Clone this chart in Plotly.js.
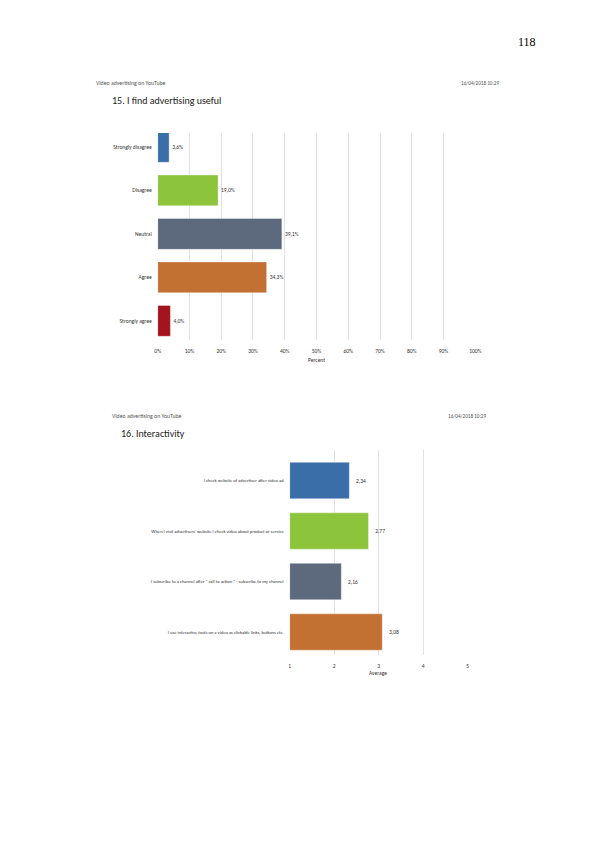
<!DOCTYPE html>
<html>
<head>
<meta charset="utf-8">
<script src="https://cdn.plot.ly/plotly-3.0.1.min.js"></script>
<style>
  html, body { margin: 0; padding: 0; background: #fff; }
  #page { width: 595px; height: 842px; }
</style>
</head>
<body>
<div id="page"></div>
<script>
// question 15
var usefulCats = ['Strongly disagree', 'Disagree', 'Neutral', 'Agree', 'Strongly agree'];
var usefulPct = [3.6, 19.0, 39.1, 34.3, 4.0];
var usefulColors = ['#3a6ea8', '#8cc43c', '#5d6a7d', '#c27133', '#a3141f'];
var pctTicks = [0, 10, 20, 30, 40, 50, 60, 70, 80, 90, 100];

// question 16
var interCats = [
    'I check website of advertiser after video ad',
    'When I visit advertisers\u2019 website I check video about product or service',
    'I subscribe to a channel after " call to action " - subscribe to my channel',
    'I use interactive tools on a video as clickable links, buttons etc.'
];
var interAvg = [2.34, 2.77, 2.16, 3.08];
var interColors = ['#3a6ea8', '#8cc43c', '#5d6a7d', '#c27133'];
var avgTicks = [1, 2, 3, 4, 5];

var bodyFont = "Carlito, 'Liberation Sans Narrow', Lato, sans-serif";

var trace1 = {
    type: 'bar',
    orientation: 'h',
    x: usefulPct,
    y: usefulCats,
    width: 0.71,
    marker: {color: usefulColors, line: {color: 'rgba(255,255,255,0.6)', width: 0.6}},
    texttemplate: '%{x:.1f}%',
    textposition: 'outside',
    textfont: {size: 5.5, color: '#333', family: bodyFont},
    cliponaxis: false,
    hoverinfo: 'none',
    xaxis: 'x',
    yaxis: 'y'
};

// the scale starts at 1, so bars run from base 1 to the average
var trace2 = {
    type: 'bar',
    orientation: 'h',
    base: 1,
    x: interAvg.map(function(v){ return v - 1; }),
    y: interCats,
    customdata: interAvg,
    width: 0.72,
    marker: {color: interColors, line: {color: 'rgba(255,255,255,0.6)', width: 0.6}},
    texttemplate: '\u00a0\u00a0\u00a0%{customdata:.2f}',
    textposition: 'outside',
    textfont: {size: 5.5, color: '#333', family: bodyFont},
    cliponaxis: false,
    hoverinfo: 'none',
    xaxis: 'x2',
    yaxis: 'y2'
};

var gridCol = '#d9d9d9';

var layout = {
    width: 595,
    height: 842,
    margin: {l: 0, r: 0, t: 0, b: 0},
    paper_bgcolor: '#fff',
    plot_bgcolor: 'rgba(0,0,0,0)',
    showlegend: false,
    separators: ',.',
    font: {family: bodyFont, color: '#333'},
    xaxis: {
        domain: [157.7 / 595, 475.3 / 595],
        range: [0, 100],
        tickvals: pctTicks,
        ticktext: pctTicks.map(function(t){ return t + '%'; }),
        showgrid: true,
        gridcolor: gridCol,
        gridwidth: 0.8,
        zeroline: false,
        showline: false,
        ticks: 'outside',
        ticklen: 5,
        tickcolor: 'rgba(0,0,0,0)',
        tickfont: {size: 5.5, color: '#333'},
        fixedrange: true
    },
    yaxis: {
        domain: [1 - 340 / 842, 1 - 133 / 842],
        range: [4.44, -0.32],
        showgrid: false,
        zeroline: false,
        ticks: '',
        ticklabelstandoff: 5,
        tickfont: {size: 5.5, color: '#333'},
        fixedrange: true
    },
    xaxis2: {
        domain: [289.7 / 595, 467.7 / 595],
        range: [1, 5],
        tickvals: avgTicks,
        showgrid: true,
        gridcolor: gridCol,
        gridwidth: 0.8,
        zeroline: false,
        showline: false,
        ticks: 'outside',
        ticklen: 5,
        tickcolor: 'rgba(0,0,0,0)',
        tickfont: {size: 5.5, color: '#333'},
        anchor: 'y2',
        fixedrange: true
    },
    yaxis2: {
        domain: [1 - 655 / 842, 1 - 450 / 842],
        range: [3.455, -0.604],
        showgrid: false,
        zeroline: false,
        ticks: '',
        ticklabelstandoff: 5,
        tickfont: {size: 4.6, color: '#333'},
        anchor: 'x2',
        fixedrange: true
    },
    annotations: [
        {text: '118', x: 538 / 595, y: 1 - 42 / 842, xref: 'paper', yref: 'paper',
         xanchor: 'right', yanchor: 'middle', showarrow: false,
         font: {family: "'Liberation Serif', 'DejaVu Serif', serif", size: 12, color: '#000'}},

        {text: 'Video advertising on YouTube', x: 94 / 595, y: 1 - 83 / 842, xref: 'paper', yref: 'paper',
         xanchor: 'left', yanchor: 'middle', showarrow: false, font: {size: 5.8, color: '#555'}},
        {text: '16/04/2018 10:29', x: 501 / 595, y: 1 - 83 / 842, xref: 'paper', yref: 'paper',
         xanchor: 'right', yanchor: 'middle', showarrow: false, font: {size: 5.2, color: '#555'}},
        {text: '15. I find advertising useful', x: 110 / 595, y: 1 - 101 / 842, xref: 'paper', yref: 'paper',
         xanchor: 'left', yanchor: 'middle', showarrow: false, font: {size: 10, color: '#222'}},
        {text: 'Percent', x: 316 / 595, y: 1 - 360 / 842, xref: 'paper', yref: 'paper',
         xanchor: 'center', yanchor: 'middle', showarrow: false, font: {size: 5.5, color: '#333'}},

        {text: 'Video advertising on YouTube', x: 110 / 595, y: 1 - 416 / 842, xref: 'paper', yref: 'paper',
         xanchor: 'left', yanchor: 'middle', showarrow: false, font: {size: 5.8, color: '#555'}},
        {text: '16/04/2018 10:29', x: 488 / 595, y: 1 - 416 / 842, xref: 'paper', yref: 'paper',
         xanchor: 'right', yanchor: 'middle', showarrow: false, font: {size: 5.2, color: '#555'}},
        {text: '16. Interactivity', x: 119 / 595, y: 1 - 433 / 842, xref: 'paper', yref: 'paper',
         xanchor: 'left', yanchor: 'middle', showarrow: false, font: {size: 10, color: '#222'}},
        {text: 'Average', x: 378 / 595, y: 1 - 673 / 842, xref: 'paper', yref: 'paper',
         xanchor: 'center', yanchor: 'middle', showarrow: false, font: {size: 5.5, color: '#333'}}
    ]
};

var config = {staticPlot: true, displayModeBar: false};

Plotly.newPlot('page', [trace1, trace2], layout, config);
</script>
</body>
</html>
